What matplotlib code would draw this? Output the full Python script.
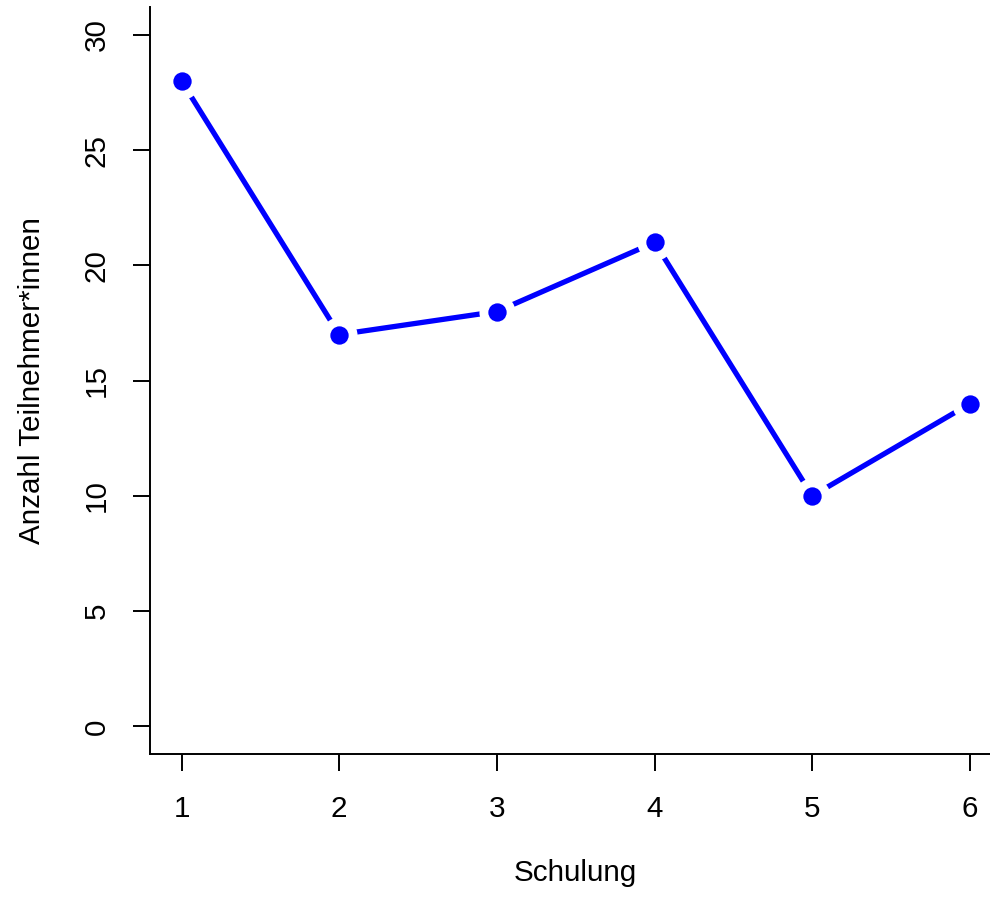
import matplotlib
matplotlib.use("Agg")
import matplotlib.pyplot as plt

schulung = [1, 2, 3, 4, 5, 6]
teilnehmer = [28, 17, 18, 21, 10, 14]
xticks = [1, 2, 3, 4, 5, 6]
yticks = [0, 5, 10, 15, 20, 25, 30]

plt.rcParams['font.family'] = ['Liberation Sans', 'DejaVu Sans']

fig = plt.figure(figsize=(9.9, 8.98), dpi=100)
ax = fig.add_axes([150/990, 144/898, 851.5/990, 746.7/898])

ax.plot(schulung, teilnehmer, color='#0000FF', lw=3.8, solid_capstyle='round', zorder=2)
ax.plot(schulung, teilnehmer, 'o', ms=26, color='white', mec='none', zorder=3, clip_on=False)
ax.plot(schulung, teilnehmer, 'o', ms=13.2, color='#0000FF', mec='none', zorder=4, clip_on=False)

ax.set_xlim(0.8, 6.2)
ax.set_ylim(-1.2, 31.2)
ax.set_xticks(xticks)
ax.set_yticks(yticks)
ax.set_yticklabels([str(v) for v in yticks], rotation=90, va='center')
for s in ['top', 'right']:
    ax.spines[s].set_visible(False)
for s in ['left', 'bottom']:
    ax.spines[s].set_linewidth(1.4)
ax.tick_params(axis='both', length=12.5, width=1.4, labelsize=21.3)
ax.tick_params(axis='x', pad=17)
ax.tick_params(axis='y', pad=16)
ax.set_xlabel('Schulung', fontsize=21.3, labelpad=26)
ax.set_ylabel('Anzahl Teilnehmer*innen', fontsize=21.3, labelpad=26)

fig.savefig('out.png', dpi=100)
